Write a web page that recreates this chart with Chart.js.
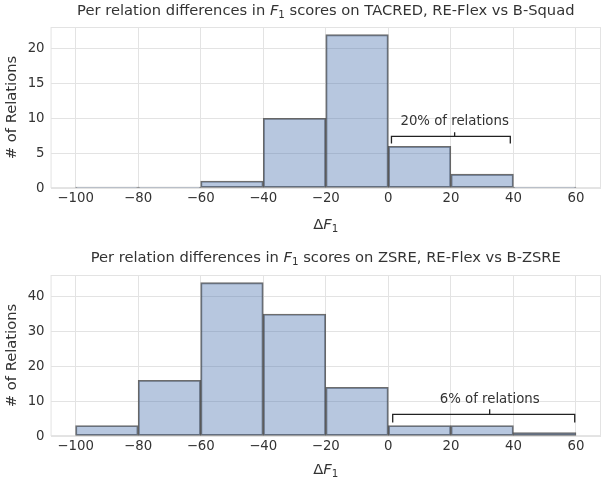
<!DOCTYPE html>
<html>
<head>
<meta charset="utf-8">
<script src="https://cdn.jsdelivr.net/npm/chart.js@4"></script>
<style>
html,body{margin:0;padding:0;background:#fff;}
.wrap{width:604px;height:240px;position:relative;}
</style>
</head>
<body>
<div class="wrap"><canvas id="c1"></canvas></div>
<div class="wrap"><canvas id="c2"></canvas></div>
<script>
// Bin centers (bins of width 20 from -100 to 60)
const binCenters = [-90, -70, -50, -30, -10, 10, 30, 50];
const tacredCounts = [0, 0, 1, 10, 22, 6, 2, 0];
const zsreCounts = [3, 16, 44, 35, 14, 3, 3, 1];
const xTicks = [-100, -80, -60, -40, -20, 0, 20, 40, 60];
const tacredYTicks = [0, 5, 10, 15, 20];
const zsreYTicks = [0, 10, 20, 30, 40];
// title pieces: before italic F, after subscript
const tacredTitle = ['Per relation differences in ', ' scores on TACRED, RE-Flex vs B-Squad'];
const zsreTitle = ['Per relation differences in ', ' scores on ZSRE, RE-Flex vs B-ZSRE'];
// brackets: [x start, x end, y bar, y tips, x mid, y mid top, y text, label]
const tacredBracket = [1, 39, 7.4, 6.4, 21.2, 8.0, 9.6, '20% of relations'];
const zsreBracket = [1.4, 59.6, 6.2, 3.9, 32.4, 7.7, 10.6, '6% of relations'];

const FONT = '"DejaVu Sans"';
const TXT = '#333333';
const GRID = '#e3e3e3';

// draw text with italic F and subscript 1
function richText(ctx, segs, cx, cy, size) {
  const fonts = {n: size + 'px ' + FONT, i: 'oblique ' + size + 'px ' + FONT, s: (size * 0.7) + 'px ' + FONT};
  let w = 0;
  segs.forEach(s => { ctx.font = fonts[s[1]]; w += ctx.measureText(s[0]).width; });
  let x = cx - w / 2;
  ctx.textAlign = 'left';
  ctx.textBaseline = 'middle';
  segs.forEach(s => {
    ctx.font = fonts[s[1]];
    const dy = s[1] === 's' ? size * 0.3 : 0;
    ctx.fillText(s[0], x, cy + dy);
    x += ctx.measureText(s[0]).width;
  });
}

const framePlugin = {
  id: 'frame',
  beforeDatasetsDraw(chart) {
    const {ctx, chartArea: a} = chart;
    ctx.save();
    ctx.strokeStyle = GRID;
    ctx.lineWidth = 1;
    ctx.strokeRect(a.left + 0.5, a.top + 0.5, a.right - a.left - 1, a.bottom - a.top - 1);
    ctx.restore();
  }
};

const textPlugin = {
  id: 'richlabels',
  afterDraw(chart, args, opts) {
    const {ctx, chartArea: a} = chart;
    const cx = (a.left + a.right) / 2;
    ctx.save();
    ctx.fillStyle = TXT;
    richText(ctx, [[opts.title[0], 'n'], ['F', 'i'], ['1', 's'], [opts.title[1], 'n']], cx, opts.titleY, 14.7);
    richText(ctx, [['\u0394', 'n'], ['F', 'i'], ['1', 's']], cx, opts.xlabelY, 14.7);
    ctx.restore();
  }
};

const bracketPlugin = {
  id: 'bracket',
  afterDatasetsDraw(chart, args, opts) {
    const b = opts.data;
    if (!b) return;
    const {ctx, scales: {x, y}} = chart;
    const x0 = x.getPixelForValue(b[0]), x1 = x.getPixelForValue(b[1]);
    const yb = y.getPixelForValue(b[2]), yt = y.getPixelForValue(b[3]);
    const xm = x.getPixelForValue(b[4]), ym = y.getPixelForValue(b[5]);
    const ytx = y.getPixelForValue(b[6]);
    ctx.save();
    ctx.strokeStyle = '#222';
    ctx.lineWidth = 1.3;
    ctx.beginPath();
    ctx.moveTo(x0, yt); ctx.lineTo(x0, yb); ctx.lineTo(x1, yb); ctx.lineTo(x1, yt);
    ctx.moveTo(xm, yb); ctx.lineTo(xm, ym);
    ctx.stroke();
    ctx.fillStyle = TXT;
    ctx.font = '13.3px ' + FONT;
    ctx.textAlign = 'center';
    ctx.textBaseline = 'middle';
    ctx.fillText(b[7], xm, ytx);
    ctx.restore();
  }
};

function fmt(v) { return String(v).replace('-', '\u2212'); }

function makeChart(id, counts, yTicks, yMax, title, bracket, pad, titleY, xlabelY) {
  return new Chart(document.getElementById(id), {
    type: 'bar',
    data: {
      datasets: [{
        data: binCenters.map((c, i) => ({x: c, y: counts[i]})),
        backgroundColor: 'rgba(76,114,176,0.4)',
        borderColor: 'rgba(60,60,60,0.75)',
        borderWidth: 1.2,
        borderSkipped: false,
        barPercentage: 1,
        categoryPercentage: 1,
        grouped: false,
        minBarLength: 1
      }]
    },
    options: {
      responsive: true,
      maintainAspectRatio: false,
      animation: false,
      layout: {padding: pad},
      plugins: {
        legend: {display: false},
        tooltip: {enabled: false},
        title: {display: false},
        bracket: {data: bracket},
        richlabels: {title: title, titleY: titleY, xlabelY: xlabelY}
      },
      scales: {
        x: {
          type: 'linear',
          offset: false,
          min: -108, max: 68,
          afterBuildTicks(s) { s.ticks = xTicks.map(v => ({value: v})); },
          ticks: {color: TXT, font: {family: 'DejaVu Sans', size: 13.3}, padding: 3, maxRotation: 0, autoSkip: false, callback: v => fmt(v)},
          grid: {color: GRID, drawTicks: false, offset: false},
          border: {display: false}
        },
        y: {
          min: 0, max: yMax,
          afterBuildTicks(s) { s.ticks = yTicks.map(v => ({value: v})); },
          ticks: {color: TXT, font: {family: 'DejaVu Sans', size: 13.3}, padding: 6},
          grid: {color: GRID, drawTicks: false},
          border: {display: false},
          title: {display: true, text: '# of Relations', color: TXT, font: {family: 'DejaVu Sans', size: 14.7}, padding: {top: 0, bottom: 1}}
        }
      }
    },
    plugins: [framePlugin, bracketPlugin, textPlugin]
  });
}

makeChart('c1', tacredCounts, tacredYTicks, 23.1, tacredTitle, tacredBracket, {left: 3, right: 3, top: 27, bottom: 30}, 11, 225);
makeChart('c2', zsreCounts, zsreYTicks, 46.2, zsreTitle, zsreBracket, {left: 3, right: 3, top: 35, bottom: 22}, 18, 230);
</script>
</body>
</html>
